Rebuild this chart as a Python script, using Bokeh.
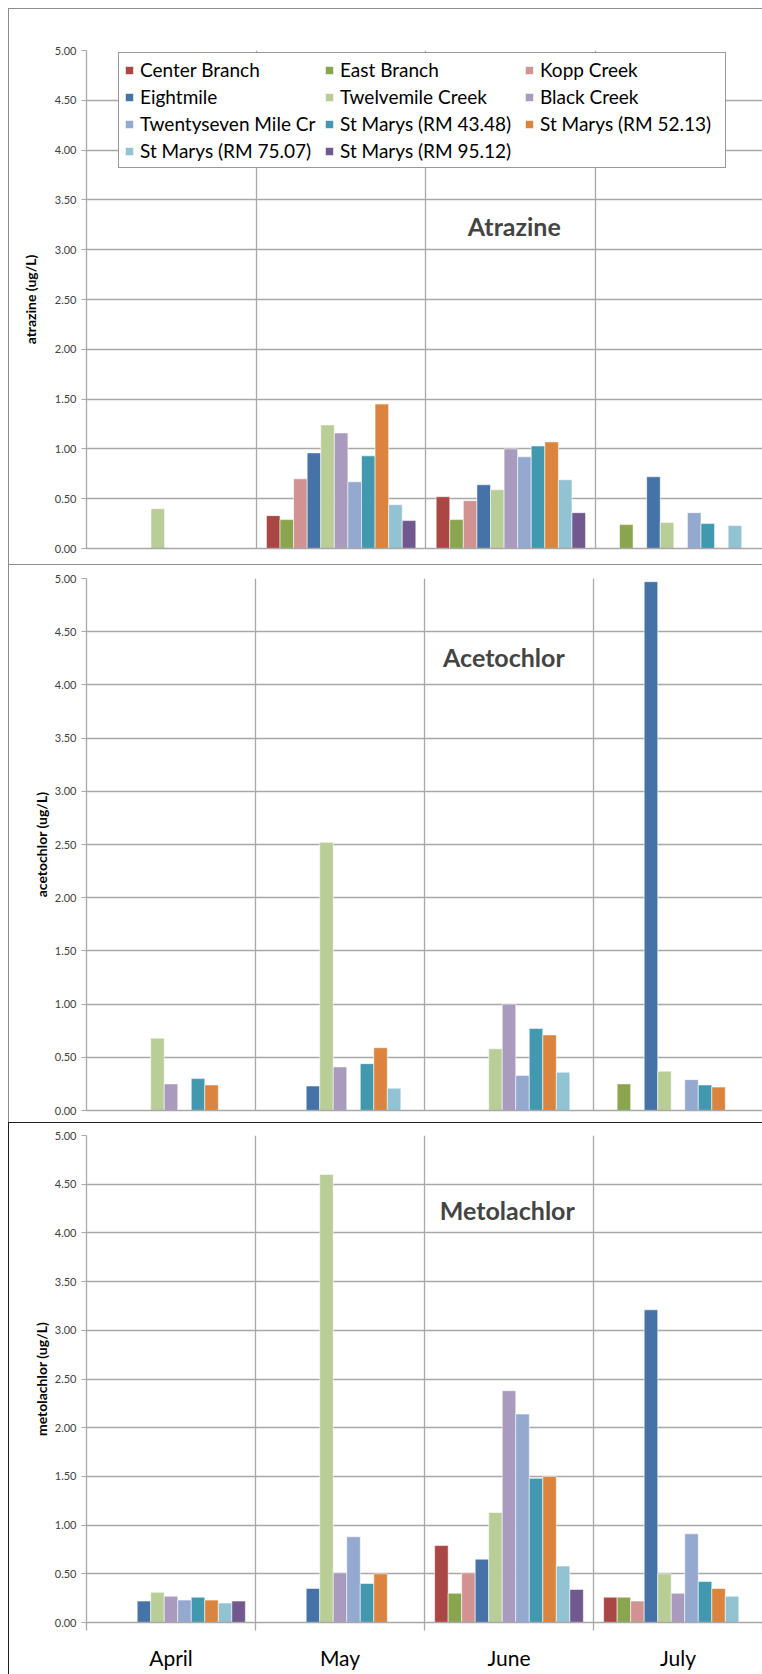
from bokeh.plotting import figure
from bokeh.models import (Range1d, FixedTicker, PrintfTickFormatter, CustomJSTickFormatter,
                          Legend, LegendItem, Label)
from bokeh.layouts import column
from bokeh.embed import file_html
from bokeh.resources import INLINE

# ---- data -------------------------------------------------------------
months = ["April", "May", "June", "July"]

sites = ["Center Branch", "East Branch", "Kopp Creek", "Eightmile", "Twelvemile Creek",
         "Black Creek", "Twentyseven Mile Cr", "St Marys (RM 43.48)", "St Marys (RM 52.13)",
         "St Marys (RM 75.07)", "St Marys (RM 95.12)"]

colors = ["#AA4643", "#89A54E", "#D19392", "#4572A7", "#B9CD96", "#A99BBD",
          "#93A9CF", "#4198AF", "#DB843D", "#92C3D3", "#71588F"]

# concentrations in ug/L, one row per site, columns April..July (None = not detected)
atrazine = [
    [None, 0.33, 0.52, None],
    [None, 0.29, 0.29, 0.24],
    [None, 0.70, 0.48, None],
    [None, 0.96, 0.64, 0.72],
    [0.40, 1.24, 0.59, 0.26],
    [None, 1.16, 1.00, None],
    [None, 0.67, 0.92, 0.36],
    [None, 0.93, 1.03, 0.25],
    [None, 1.45, 1.07, None],
    [None, 0.44, 0.69, 0.23],
    [None, 0.28, 0.36, None],
]

acetochlor = [
    [None, None, None, None],
    [None, None, None, 0.25],
    [None, None, None, None],
    [None, 0.23, None, 4.97],
    [0.68, 2.52, 0.58, 0.37],
    [0.25, 0.41, 1.00, None],
    [None, None, 0.33, 0.29],
    [0.30, 0.44, 0.77, 0.24],
    [0.24, 0.59, 0.71, 0.22],
    [None, 0.21, 0.36, None],
    [None, None, None, None],
]

metolachlor = [
    [None, None, 0.79, 0.26],
    [None, None, 0.30, 0.26],
    [None, None, 0.51, 0.22],
    [0.22, 0.35, 0.65, 3.21],
    [0.31, 4.60, 1.13, 0.50],
    [0.27, 0.51, 2.38, 0.30],
    [0.23, 0.88, 2.14, 0.91],
    [0.26, 0.40, 1.48, 0.42],
    [0.23, 0.50, 1.50, 0.35],
    [0.20, None, 0.58, 0.27],
    [0.22, None, 0.34, None],
]

y_ticks = [0.0, 0.5, 1.0, 1.5, 2.0, 2.5, 3.0, 3.5, 4.0, 4.5, 5.0]

# ---- styling ----------------------------------------------------------
FONT = "Lato"
GRID = "#a8a8a8"
SLOT = 1.0 / (len(sites) + 1.5)      # bar width with a 150% gap between month groups
LEGEND_COLS = 3


def bar_x(month_idx, site_idx):
    return month_idx + 0.75 * SLOT + (site_idx + 0.5) * SLOT


def row_major(items, ncols):
    # the legend grid fills column by column; reorder so entries read across rows
    nrows = -(-len(items) // ncols)
    order = [r * ncols + c for c in range(ncols) for r in range(nrows) if r * ncols + c < len(items)]
    return [items[i] for i in order]


def make_panel(values, title, ylabel, height, borders, x_end, title_xy, frame_color,
               ylabel_standoff, show_months=False, with_legend=False):
    top, bottom, left, right = borders
    p = figure(width=754, height=height, x_range=Range1d(0, x_end), y_range=Range1d(0, 5),
               output_backend="svg", toolbar_location=None,
               min_border_top=top, min_border_bottom=bottom,
               min_border_left=left, min_border_right=right,
               styles={"border-top": f"1px solid {frame_color}",
                       "border-left": f"1px solid {frame_color}",
                       "box-sizing": "border-box"})
    p.outline_line_color = None
    p.background_fill_color = "white"

    items = []
    for s, (name, col) in enumerate(zip(sites, colors)):
        xs = [bar_x(m, s) for m, v in enumerate(values[s]) if v is not None]
        ys = [v for v in values[s] if v is not None]
        r = p.vbar(x=xs, top=ys, bottom=0, width=SLOT, fill_color=col,
                   line_color="white", line_alpha=0.55, line_width=1)
        items.append(LegendItem(label=name, renderers=[r]))

    # grid
    p.ygrid.ticker = FixedTicker(ticks=y_ticks)
    p.ygrid.grid_line_color = GRID
    p.ygrid.grid_line_width = 1.3
    p.xgrid.ticker = FixedTicker(ticks=[1, 2, 3, 4])
    p.xgrid.grid_line_color = GRID
    p.xgrid.grid_line_width = 1.3

    # y axis
    ya = p.yaxis[0]
    ya.ticker = FixedTicker(ticks=y_ticks)
    ya.formatter = PrintfTickFormatter(format="%.2f")
    ya.axis_label = ylabel
    ya.axis_label_text_font = FONT
    ya.axis_label_text_font_style = "bold"
    ya.axis_label_text_font_size = "14px"
    ya.axis_label_text_color = "black"
    ya.axis_label_standoff = ylabel_standoff
    ya.major_label_text_font = FONT
    ya.major_label_text_font_size = "11px"
    ya.major_label_text_color = "#404040"
    ya.major_label_standoff = 5
    ya.axis_line_color = GRID
    ya.axis_line_width = 1.3
    ya.major_tick_line_color = GRID
    ya.major_tick_out = 5
    ya.major_tick_in = 0
    ya.minor_tick_line_color = None

    # x axis
    xa = p.xaxis[0]
    xa.axis_line_color = GRID
    xa.axis_line_width = 1.3
    xa.major_tick_line_color = None
    if show_months:
        xa.ticker = FixedTicker(ticks=[i + 0.5 for i in range(len(months))],
                                minor_ticks=list(range(len(months) + 1)))
        xa.formatter = CustomJSTickFormatter(args=dict(labels=months),
                                             code="return labels[Math.floor(tick)];")
        xa.minor_tick_line_color = GRID
        xa.minor_tick_line_width = 1.3
        xa.minor_tick_out = 8
        xa.minor_tick_in = 0
        xa.major_tick_out = 0
        xa.major_label_text_font = FONT
        xa.major_label_text_font_size = "21px"
        xa.major_label_text_color = "black"
        xa.major_label_standoff = 14
    else:
        xa.ticker = FixedTicker(ticks=[])
        xa.minor_tick_line_color = None
        xa.major_label_text_font_size = "0px"

    p.add_layout(Label(x=title_xy[0], y=title_xy[1], text=title, text_font=FONT,
                       text_font_style="bold", text_font_size="25px",
                       text_align="center", text_baseline="middle"))

    if with_legend:
        legend = Legend(items=row_major(items, LEGEND_COLS), ncols=LEGEND_COLS,
                        location=(32, 380),
                        label_text_font=FONT, label_text_font_size="19px",
                        label_text_color="black",
                        glyph_width=10, glyph_height=10, label_standoff=6,
                        label_width=180, label_height=20, spacing=4, padding=5,
                        margin=0, border_line_color="#333333", border_line_width=1,
                        background_fill_color="white", background_fill_alpha=1.0)
        p.add_layout(legend)
    return p


p_atr = make_panel(atrazine, "Atrazine", "atrazine (ug/L)", 556, (41, 17, 77, 0),
                   677 / 170, (2.52, 3.24), "#8c8c8c", 13, with_legend=True)
p_ace = make_panel(acetochlor, "Acetochlor", "acetochlor (ug/L)", 558, (13, 13, 68, 1),
                   4.0, (2.47, 4.26), "#8c8c8c", 2)
p_met = make_panel(metolachlor, "Metolachlor", "metolachlor (ug/L)", 552, (12, 53, 68, 1),
                   4.0, (2.49, 4.23), "#202020", 2, show_months=True)

layout = column(p_atr, p_ace, p_met, spacing=0, margin=(8, 0, 0, 8))

open("out.html", "w").write(file_html(layout, INLINE))
